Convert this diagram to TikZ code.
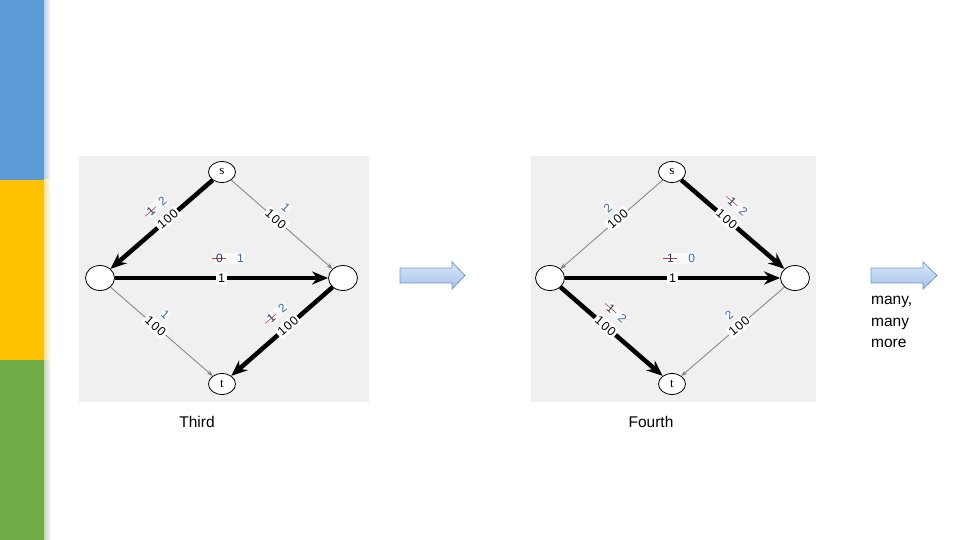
\documentclass[tikz,border=0pt]{standalone}
\usepackage{fontspec}
\setmainfont{Liberation Sans}
\newfontfamily\nodeserif{Liberation Serif}
\newfontfamily\labfont[LetterSpace=8]{Liberation Sans}
\usetikzlibrary{shapes.geometric,arrows.meta}
\definecolor{cblue}{HTML}{5B9BD5}
\definecolor{cyellow}{HTML}{FFC000}
\definecolor{cgreen}{HTML}{70AD47}
\definecolor{panelgray}{HTML}{F0F0F0}
\definecolor{flowblue}{HTML}{3A6BB0}
\definecolor{strikered}{HTML}{B04848}
\definecolor{strikedigit}{HTML}{2E3A5C}
\definecolor{arrtop}{HTML}{DCE8F8}
\definecolor{arrbot}{HTML}{A4C2EA}
\definecolor{arrline}{HTML}{6E9AD2}
\newcommand{\strk}[1]{\mbox{\makebox[0pt][l]{\hspace{-0.35em}\textcolor{strikered}{\rule[0.33em]{1.2em}{0.6pt}}}\textcolor{strikedigit}{#1}}}
\begin{document}
\begin{tikzpicture}[x=1pt,y=-1pt,
  vert/.style={draw, ellipse, fill=white, line width=0.8pt, inner sep=0pt, font=\nodeserif\fontsize{13}{13}\selectfont},
  endv/.style={vert, minimum width=27pt, minimum height=21pt},
  sidev/.style={vert, minimum width=29pt, minimum height=25pt},
  heavy/.style={line width=4.5pt, -{Stealth[length=16pt,width=13pt]}},
  light/.style={draw=gray, line width=0.8pt, -{Stealth[length=6pt,width=4.5pt]}},
  wlab/.style={font=\labfont\fontsize{12.5}{12.5}\selectfont, fill=white, inner sep=1.8pt, sloped, pos=0.44},
  flowlab/.style={font=\labfont\fontsize{12}{12}\selectfont, text=flowblue, fill=white!60!panelgray, inner sep=1pt, sloped, pos=0.44, above=9.5pt},
  midflow/.style={font=\labfont\fontsize{12}{12}\selectfont, text=flowblue, fill=white!60!panelgray, inner sep=1pt, pos=0.54, above=12pt},
  midlab/.style={font=\labfont\fontsize{12.5}{12.5}\selectfont, fill=white, inner sep=2.2pt, pos=0.5},
  captext/.style={font=\fontsize{15.5}{18}\selectfont},
  blockarrow/.style={draw=arrline, line width=0.8pt, top color=arrtop, bottom color=arrbot}
]
\useasboundingbox (0,0) rectangle (960,540);
% side colour bar
\fill[cblue] (0,0) rectangle (44,180);
\fill[cyellow] (0,180) rectangle (44,360);
\fill[cgreen] (0,360) rectangle (44,540);
\shade[left color=cblue!45, right color=white] (44,0) rectangle (51,180);
\shade[left color=cyellow!45, right color=white] (44,180) rectangle (51,360);
\shade[left color=cgreen!45, right color=white] (44,360) rectangle (51,540);
% panels
\fill[panelgray] (79,156) rectangle (369,402);
\fill[panelgray] (531,156) rectangle (816,402);
% ---------- Third ----------
\node[endv] (s1) at (222,172) {s};
\node[sidev] (l1) at (100,278) {};
\node[sidev] (r1) at (343,278) {};
\node[endv] (t1) at (222,384) {t};
\draw[heavy] (s1) -- node[wlab]{100} node[flowlab]{\strk{1}\hspace{0.7em}2} (l1);
\draw[light] (s1) -- node[wlab]{100} node[flowlab]{1} (r1);
\draw[heavy] (l1) -- node[midlab]{1} node[midflow]{\strk{0}\hspace{1.2em}1} (r1);
\draw[light] (l1) -- node[wlab]{100} node[flowlab]{1} (t1);
\draw[heavy] (r1) -- node[wlab]{100} node[flowlab]{\strk{1}\hspace{0.7em}2} (t1);
\node[captext] (cap1) at (197,422) {Third};
% ---------- Fourth ----------
\node[endv] (s2) at (672,172) {s};
\node[sidev] (l2) at (550,278) {};
\node[sidev] (r2) at (795,278) {};
\node[endv] (t2) at (672,384) {t};
\draw[light] (s2) -- node[wlab]{100} node[flowlab]{2} (l2);
\draw[heavy] (s2) -- node[wlab]{100} node[flowlab]{\strk{1}\hspace{0.7em}2} (r2);
\draw[heavy] (l2) -- node[midlab]{1} node[midflow]{\strk{1}\hspace{1.2em}0} (r2);
\draw[heavy] (l2) -- node[wlab]{100} node[flowlab]{\strk{1}\hspace{0.7em}2} (t2);
\draw[light] (r2) -- node[wlab]{100} node[flowlab]{2} (t2);
\node[captext] (cap2) at (651,422) {Fourth};
% ---------- block arrows ----------
\draw[blockarrow] (400,268) -- (452,268) -- (452,262) -- (465,275.5) -- (452,289) -- (452,283) -- (400,283) -- cycle;
\draw[blockarrow] (871,268) -- (923,268) -- (923,262) -- (937,275.5) -- (923,289) -- (923,283) -- (871,283) -- cycle;
\node[captext, anchor=north west, align=left, inner sep=0pt, font=\fontsize{15.5}{21.5}\selectfont] (more) at (871,296) {many,\\many\\more};
\end{tikzpicture}
\end{document}
